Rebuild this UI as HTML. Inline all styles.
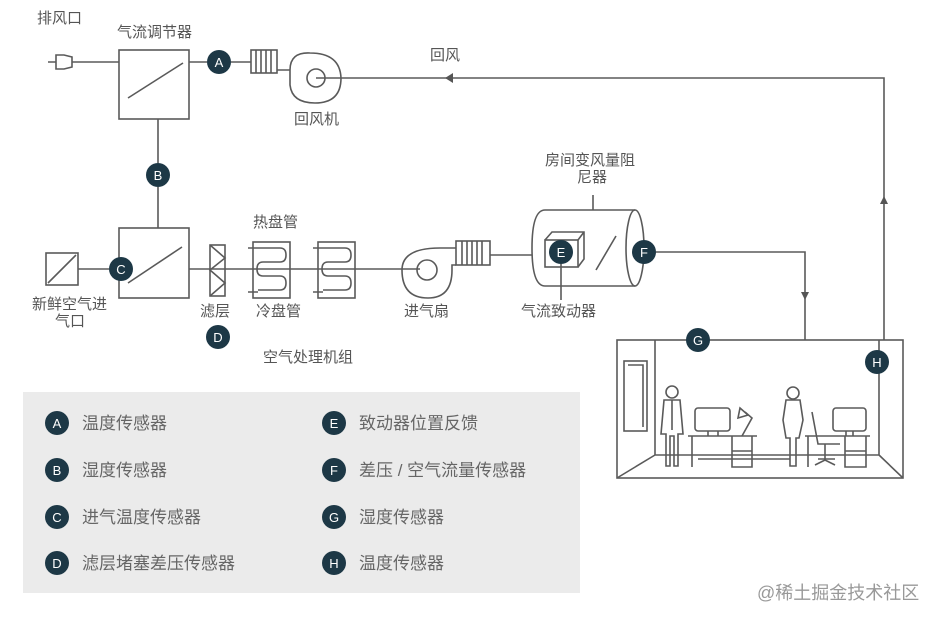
<!DOCTYPE html>
<html><head><meta charset="utf-8"><style>
html,body{margin:0;padding:0;background:#fff;}
svg{display:block}
text{font-family:"Liberation Sans","Noto Sans CJK SC",sans-serif;fill:#555;}
.l{stroke:#5a5a5a;stroke-width:1.6;fill:none}
.c{fill:#1d3846}
.ct{fill:#fff;font-size:13px;text-anchor:middle}
.lg{font-size:17px;fill:#666}
</style></head><body>
<svg width="938" height="621" viewBox="0 0 938 621" xmlns="http://www.w3.org/2000/svg">
<rect width="938" height="621" fill="#fff"/>
<g font-size="15">
<text x="37" y="23">排风口</text>
<text x="117" y="37">气流调节器</text>
<text x="430" y="60">回风</text>
<text x="294" y="124">回风机</text>
<text x="253" y="227">热盘管</text>
<text x="32" y="309">新鲜空气进</text>
<text x="55" y="326">气口</text>
<text x="200" y="316">滤层</text>
<text x="256" y="316">冷盘管</text>
<text x="404" y="316">进气扇</text>
<text x="263" y="362">空气处理机组</text>
<text x="545" y="165">房间变风量阻</text>
<text x="577" y="182">尼器</text>
<text x="521" y="316">气流致动器</text>
</g>
<g class="l">
<path d="M72 62H119"/>
<path d="M48 62H56M56 57V67M56 55H64L72 57V67L64 69H56Z"/>
<rect x="119" y="50" width="70" height="69"/>
<path d="M128 98L183 63"/>
<path d="M189 62H207M231 62H251"/>
<rect x="251" y="50" width="26" height="23"/>
<path d="M256 50V73M261 50V73M266 50V73M271 50V73"/>
<path d="M277 70H290Q290 52 310 53Q340 53 341 78Q341 103 315 103Q292 103 290 85V70"/>
<circle cx="316" cy="78" r="9"/>
<path d="M316 78H884V340"/>
<path d="M158 119V163M158 187V228"/>
<rect x="119" y="228" width="70" height="70"/>
<path d="M128 283L182 247"/>
<rect x="46" y="253" width="32" height="32"/>
<path d="M48 283L76 255"/>
<path d="M78 269H109"/>
<path d="M189 269H420"/>
<rect x="210" y="245" width="15" height="51"/>
<path d="M210 245L225 258L210 270L225 283L210 296"/>
<rect x="253" y="242" width="37" height="56"/>
<path d="M248 248H258M248 292H258M258 248H280Q286 248 286 255Q286 262 280 262H263Q257 262 257 269Q257 276 263 276H280Q286 276 286 283Q286 290 280 290H258"/>
<rect x="318" y="242" width="37" height="56"/>
<path d="M313 248H323M313 292H323M323 248H345Q351 248 351 255Q351 262 345 262H328Q322 262 322 269Q322 276 328 276H345Q351 276 351 283Q351 290 345 290H323"/>
<circle cx="427" cy="270" r="10"/>
<path d="M456 248H440Q402 248 402 270Q402 298 428 298Q452 298 452 270V265H456"/>
<rect x="456" y="241" width="34" height="24"/>
<path d="M462 241V265M467 241V265M472 241V265M477 241V265M482 241V265"/>
<path d="M490 255H532"/>
<path d="M635 210H545Q532 210 532 248Q532 286 545 286H635"/>
<ellipse cx="635" cy="248" rx="9" ry="38"/>
<path d="M593 210V195"/>
<rect x="545" y="240" width="33" height="27"/>
<path d="M545 240L552 232H584V259L578 267M578 240L584 232"/>
<path d="M596 270L616 236"/>
<path d="M561 264V300"/>
<path d="M656 252H805V340"/>
<rect x="617" y="340" width="286" height="138"/>
<path d="M655 340V455H879V340M655 455L617 478M879 455L903 478"/>
<rect x="624" y="361" width="23" height="70"/>
<path d="M628 365H643V427"/>
<circle cx="672" cy="392" r="6"/>
<path d="M664 400H680L683 434H678V466H674V436H670V466H666V434H661Z"/>
<path d="M672 400V430"/>
<rect x="695" y="408" width="35" height="23" rx="3"/>
<path d="M708 431V436H718V431M688 436H757M692 436V467M732 436H752V467H732ZM732 451H752"/>
<path d="M745 412L752 418L742 436M740 408L748 415L738 418Z"/>
<circle cx="793" cy="393" r="6"/>
<path d="M786 400H800L803 420L799 438H796V466H790V438H786L783 420Z"/>
<path d="M812 412L818 444H840M825 444V460M815 465L825 460L835 465"/>
<rect x="833" y="408" width="33" height="23" rx="3"/>
<path d="M846 431V436H853V431M805 436H870M808 436V467M845 436H866V467H845ZM845 451H866"/>
<path d="M698 459H790M818 459H835"/>
</g>
<path d="M445 78L453 73V83Z" fill="#555"/>
<path d="M801 292H809L805 300Z" fill="#555"/>
<path d="M880 204H888L884 196Z" fill="#555"/>
<g>
<circle class="c" cx="219" cy="62" r="12"/><text class="ct" x="219" y="67">A</text>
<circle class="c" cx="158" cy="175" r="12"/><text class="ct" x="158" y="180">B</text>
<circle class="c" cx="121" cy="269" r="12"/><text class="ct" x="121" y="274">C</text>
<circle class="c" cx="218" cy="337" r="12"/><text class="ct" x="218" y="342">D</text>
<circle class="c" cx="561" cy="252" r="12"/><text class="ct" x="561" y="257">E</text>
<circle class="c" cx="644" cy="252" r="12"/><text class="ct" x="644" y="257">F</text>
<circle class="c" cx="698" cy="340" r="12"/><text class="ct" x="698" y="345">G</text>
<circle class="c" cx="877" cy="362" r="12"/><text class="ct" x="877" y="367">H</text>
</g>
<rect x="23" y="392" width="557" height="201" fill="#ebebeb"/>
<g>
<circle class="c" cx="57" cy="423" r="12"/><text class="ct" x="57" y="428">A</text><text class="lg" x="82" y="429">温度传感器</text>
<circle class="c" cx="57" cy="470" r="12"/><text class="ct" x="57" y="475">B</text><text class="lg" x="82" y="476">湿度传感器</text>
<circle class="c" cx="57" cy="517" r="12"/><text class="ct" x="57" y="522">C</text><text class="lg" x="82" y="523">进气温度传感器</text>
<circle class="c" cx="57" cy="563" r="12"/><text class="ct" x="57" y="568">D</text><text class="lg" x="82" y="569">滤层堵塞差压传感器</text>
<circle class="c" cx="334" cy="423" r="12"/><text class="ct" x="334" y="428">E</text><text class="lg" x="359" y="429">致动器位置反馈</text>
<circle class="c" cx="334" cy="470" r="12"/><text class="ct" x="334" y="475">F</text><text class="lg" x="359" y="476">差压 / 空气流量传感器</text>
<circle class="c" cx="334" cy="517" r="12"/><text class="ct" x="334" y="522">G</text><text class="lg" x="359" y="523">湿度传感器</text>
<circle class="c" cx="334" cy="563" r="12"/><text class="ct" x="334" y="568">H</text><text class="lg" x="359" y="569">温度传感器</text>
</g>
<text x="757" y="599" font-size="18" style="fill:#999">@稀土掘金技术社区</text>
</svg>
</body></html>
